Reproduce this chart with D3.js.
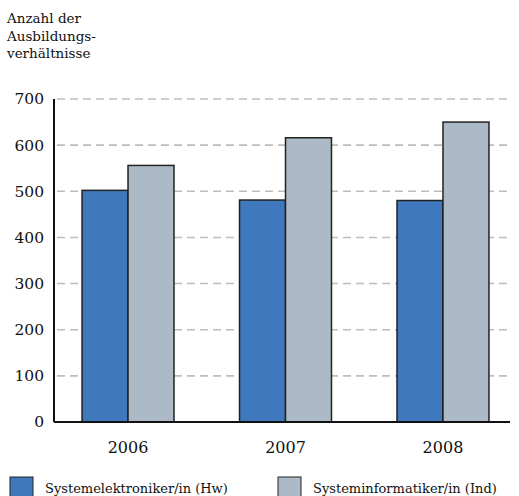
<!DOCTYPE html>
<html>
<head>
<meta charset="utf-8">
<script src="https://cdn.jsdelivr.net/npm/d3@7/dist/d3.min.js"></script>
<style>
  html, body { margin: 0; padding: 0; background: #fff; }
  svg { display: block; }
  text { font-family: "DejaVu Serif", Georgia, serif; fill: #111; }
</style>
</head>
<body>
<svg id="chart" width="519" height="496"></svg>
<script>
// Ausbildungsverhältnisse je Jahr
const years = ["2006", "2007", "2008"];
const seriesNames = ["Systemelektroniker/in (Hw)", "Systeminformatiker/in (Ind)"];
const elektroniker = [502, 481, 480];
const informatiker = [556, 616, 650];
const yTicks = [0, 100, 200, 300, 400, 500, 600, 700];
const titleLines = ["Anzahl der", "Ausbildungs-", "verhältnisse"];

const colors = ["#3f78bd", "#abbac6"];

const svg = d3.select("#chart");
const plotLeft = 54, plotRight = 510, plotTop = 99, plotBottom = 422;

const x = d3.scaleBand().domain(years).range([plotLeft, 517])
  .paddingInner(0.416).paddingOuter(0.178);
const xSub = d3.scaleBand().domain([0, 1]).range([0, x.bandwidth()]);
const y = d3.scaleLinear().domain([0, 700]).range([plotBottom, plotTop]);

// Titel
svg.append("g").selectAll("text").data(titleLines).join("text")
  .attr("x", 7).attr("y", (d, i) => 23 + i * 17.5)
  .attr("font-size", 13.5).text(d => d);

// Gitterlinien
svg.append("g").selectAll("line").data(yTicks.filter(d => d > 0)).join("line")
  .attr("x1", plotLeft + 3).attr("x2", plotRight)
  .attr("y1", d => y(d)).attr("y2", d => y(d))
  .attr("stroke", "#bdbdbd").attr("stroke-width", 1.6)
  .attr("stroke-dasharray", "8,5");

// y-Achse
const yAxis = svg.append("g").attr("transform", `translate(${plotLeft},0)`)
  .call(d3.axisLeft(y).tickValues(yTicks).tickSize(0).tickPadding(10));
yAxis.select(".domain").remove();
yAxis.selectAll("text").attr("font-size", 15.5)
  .style("font-family", "'DejaVu Serif', Georgia, serif").attr("fill", "#111");
svg.append("line").attr("x1", plotLeft).attr("x2", plotLeft)
  .attr("y1", plotTop).attr("y2", plotBottom)
  .attr("stroke", "#111").attr("stroke-width", 2);

// Balken
const groups = svg.append("g").selectAll("g").data(years).join("g")
  .attr("transform", d => `translate(${x(d)},0)`);
groups.selectAll("rect")
  .data((d, i) => [elektroniker[i], informatiker[i]])
  .join("rect")
  .attr("x", (d, j) => xSub(j))
  .attr("width", xSub.bandwidth())
  .attr("y", d => y(d))
  .attr("height", d => y(0) - y(d))
  .attr("fill", (d, j) => colors[j])
  .attr("stroke", "#222").attr("stroke-width", 1.5);

// x-Achse
svg.append("line").attr("x1", plotLeft).attr("x2", plotRight)
  .attr("y1", plotBottom).attr("y2", plotBottom)
  .attr("stroke", "#111").attr("stroke-width", 2.2);
const xAxis = svg.append("g").attr("transform", `translate(0,${plotBottom})`)
  .call(d3.axisBottom(x).tickSize(0).tickPadding(20));
xAxis.select(".domain").remove();
xAxis.selectAll("text").attr("font-size", 16)
  .style("font-family", "'DejaVu Serif', Georgia, serif").attr("fill", "#111");

// Legende
const legendX = [10, 278];
const legend = svg.append("g").selectAll("g").data(seriesNames).join("g")
  .attr("transform", (d, i) => `translate(${legendX[i]},477)`);
legend.append("rect").attr("width", 23).attr("height", 22)
  .attr("fill", (d, i) => colors[i]).attr("stroke", "#222").attr("stroke-width", 1);
legend.append("text").attr("x", 35).attr("y", 16)
  .attr("font-size", 13).text(d => d);
</script>
</body>
</html>
